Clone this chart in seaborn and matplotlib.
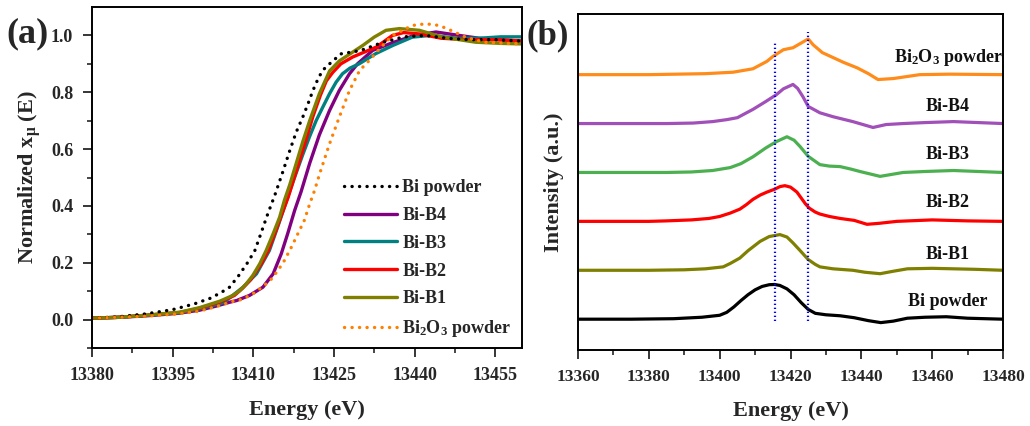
import numpy as np
import pandas as pd
import matplotlib
matplotlib.use("Agg")
import matplotlib.pyplot as plt
import seaborn as sns

# ---------------- data: panel (a) XANES ----------------
a_names = ["Bi powder", "Bi-B4", "Bi-B3", "Bi-B2", "Bi-B1", "Bi$_2$O$_3$ powder"]

a_bi_e = [13380, 13385, 13390, 13395, 13399, 13402, 13404, 13405.6, 13407.3, 13409, 13410.3, 13411.5,
          13412.7, 13414, 13415.5, 13416.8, 13418, 13419.2, 13420.2, 13421.1, 13422, 13422.9, 13424.2,
          13426.3, 13430, 13434, 13438, 13442, 13446, 13450, 13455, 13460]
a_bi_v = [0.005, 0.01, 0.02, 0.035, 0.055, 0.075, 0.095, 0.114, 0.155, 0.202, 0.243, 0.307,
          0.372, 0.437, 0.52, 0.595, 0.66, 0.712, 0.76, 0.806, 0.845, 0.877, 0.9,
          0.935, 0.947, 0.975, 0.995, 1.0, 0.99, 0.985, 0.985, 0.98]

a_b4_e = [13380, 13385, 13390, 13396, 13400, 13403, 13405.6, 13406.9, 13409.3, 13411.8, 13413.7,
          13415.2, 13416.4, 13417.7, 13418.9, 13420.5, 13422.3, 13424.2, 13426, 13427.9, 13429.4,
          13432.2, 13436, 13440, 13444, 13448.3, 13452, 13456, 13460]
a_b4_v = [0.005, 0.008, 0.013, 0.022, 0.033, 0.047, 0.061, 0.067, 0.085, 0.114, 0.161,
          0.231, 0.302, 0.384, 0.45, 0.55, 0.65, 0.736, 0.806, 0.865, 0.9,
          0.947, 0.975, 1.0, 1.012, 1.0, 0.99, 0.985, 0.98]

a_b3_e = [13380, 13385, 13390, 13396.3, 13400, 13404.5, 13408.1, 13410.6, 13413, 13414.8, 13416.4,
          13417.4, 13419.2, 13420.5, 13421.7, 13423, 13424.2, 13425.4, 13426.6, 13428, 13429.7,
          13432.8, 13436, 13439.6, 13443, 13448, 13452, 13456, 13460]
a_b3_v = [0.005, 0.008, 0.015, 0.024, 0.038, 0.06, 0.114, 0.161, 0.243, 0.34, 0.43,
          0.485, 0.58, 0.645, 0.70, 0.75, 0.795, 0.835, 0.865, 0.885, 0.9,
          0.936, 0.965, 0.994, 1.0, 0.99, 0.99, 0.995, 0.995]

a_b2_e = [13380, 13385, 13390, 13396.3, 13400, 13404, 13406.5, 13408, 13409.5, 13411.5, 13412.8,
          13414, 13415.3, 13416.5, 13418.3, 13419.7, 13421.1, 13422.5, 13423.6, 13424.8, 13426.3,
          13428.5, 13430.5, 13432.9, 13435.9, 13438, 13441, 13445, 13450, 13455, 13460]
a_b2_v = [0.005, 0.008, 0.015, 0.025, 0.04, 0.063, 0.085, 0.11, 0.14, 0.196, 0.243,
          0.302, 0.37, 0.431, 0.54, 0.625, 0.715, 0.79, 0.84, 0.87, 0.9,
          0.924, 0.94, 0.959, 1.0, 1.01, 1.005, 0.99, 0.985, 0.985, 0.98]

a_b1_e = [13380, 13385, 13390, 13396.3, 13400, 13403.8, 13406.2, 13407.5, 13408.7, 13409.9, 13411.2,
          13412.4, 13413.7, 13414.9, 13415.8, 13416.8, 13418, 13419.2, 13420.5, 13422.3, 13424.2,
          13426, 13428, 13430.4, 13432.5, 13434.7, 13437.2, 13440.9, 13445.2, 13451.4, 13456, 13460]
a_b1_v = [0.005, 0.008, 0.015, 0.026, 0.042, 0.065, 0.085, 0.102, 0.126, 0.155, 0.196,
          0.243, 0.302, 0.36, 0.42, 0.475, 0.55, 0.625, 0.70, 0.795, 0.875,
          0.91, 0.935, 0.965, 0.994, 1.018, 1.024, 1.018, 0.994, 0.976, 0.972, 0.97]

a_ox_e = [13380, 13390, 13396, 13400, 13403, 13406.2, 13407.5, 13408.7, 13409.9, 13411.2, 13412.4,
          13413.4, 13414.6, 13415.8, 13417.1, 13418.3, 13419.5, 13420.5, 13421.4, 13422.3, 13424.2,
          13426, 13427.9, 13429.8, 13431.6, 13433.5, 13435.9, 13439.6, 13442.1, 13444.6, 13446.5,
          13449.6, 13453.3, 13457, 13460]
a_ox_v = [0.005, 0.012, 0.02, 0.03, 0.045, 0.064, 0.069, 0.079, 0.09, 0.108, 0.126,
          0.143, 0.173, 0.208, 0.255, 0.302, 0.349, 0.407, 0.454, 0.51, 0.619,
          0.712, 0.806, 0.877, 0.912, 0.953, 1.0, 1.035, 1.041, 1.035, 1.02,
          0.993, 0.975, 0.972, 0.97]

a_colors = ["#000000", "#800080", "#008080", "#FF0000", "#808000", "#FF8000"]
a_dotted = [True, False, False, False, False, True]

a_xticks = [13380, 13395, 13410, 13425, 13440, 13455]
a_xminor = [13387.5, 13402.5, 13417.5, 13432.5, 13447.5]
a_yticks = [0.0, 0.2, 0.4, 0.6, 0.8, 1.0]
a_yminor = [-0.1, 0.1, 0.3, 0.5, 0.7, 0.9]

# ---------------- data: panel (b) derivative spectra ----------------
b_names = ["Bi powder", "Bi-B1", "Bi-B2", "Bi-B3", "Bi-B4", "Bi$_2$O$_3$ powder"]
b_offsets = [0, 1, 2, 3, 4, 5]

b_bi_e = [13360, 13375, 13387, 13395, 13400, 13402, 13404, 13406, 13408, 13410, 13412, 13414, 13415.5,
          13417, 13419, 13421, 13423, 13425, 13427, 13430, 13434, 13438, 13442, 13445.5, 13449, 13453,
          13458, 13464, 13470, 13480]
b_bi_v = [0, 0, 0.01, 0.04, 0.08, 0.14, 0.25, 0.38, 0.5, 0.6, 0.67, 0.705, 0.71,
          0.69, 0.62, 0.5, 0.34, 0.2, 0.12, 0.09, 0.07, 0.03, -0.03, -0.07, -0.04, 0.02,
          0.04, 0.05, 0.02, 0]

b_b1_e = [13360, 13380, 13390, 13396, 13401, 13403, 13405.7, 13408, 13411.4, 13414, 13417, 13419,
          13420.7, 13423, 13425, 13427, 13428.3, 13432, 13437.6, 13441, 13445.3, 13449, 13453, 13460,
          13466, 13472, 13480]
b_b1_v = [0, 0, 0.01, 0.03, 0.07, 0.14, 0.25, 0.4, 0.59, 0.69, 0.73, 0.68,
          0.56, 0.38, 0.22, 0.12, 0.07, 0.03, 0, -0.04, -0.07, -0.02, 0.03, 0.04,
          0.03, 0.02, 0]

b_b2_e = [13360, 13380, 13385, 13392, 13397, 13400, 13403, 13405.7, 13407.5, 13409.4, 13411.5,
          13413.4, 13415.6, 13417, 13418.4, 13420, 13421.8, 13423, 13424.2, 13425.3, 13427, 13428.3,
          13431, 13434, 13438, 13441.6, 13445, 13450, 13460, 13470, 13480]
b_b2_v = [0, 0, 0.01, 0.03, 0.06, 0.1, 0.17, 0.25, 0.34, 0.45, 0.54,
          0.6, 0.66, 0.71, 0.73, 0.7, 0.6, 0.48, 0.36, 0.27, 0.19, 0.15,
          0.1, 0.06, 0.02, -0.06, -0.04, 0, 0.03, 0.01, 0]

b_b3_e = [13360, 13385, 13392, 13398, 13403, 13406, 13409.4, 13413, 13416, 13419, 13421, 13422.7,
          13425, 13428.3, 13431, 13434, 13437, 13439.6, 13445.3, 13451.8, 13458, 13466, 13473, 13480]
b_b3_v = [0, 0, 0.01, 0.04, 0.1, 0.18, 0.32, 0.5, 0.63, 0.73, 0.66, 0.53,
          0.33, 0.16, 0.13, 0.12, 0.07, 0.02, -0.08, 0, 0.02, 0.04, 0.02, 0]

b_b4_e = [13360, 13385, 13392.5, 13398, 13402, 13405, 13409.4, 13413, 13416, 13418, 13420.7, 13422,
          13423.5, 13425, 13428.3, 13432, 13437.6, 13443.3, 13447, 13451.8, 13458, 13466, 13473, 13480]
b_b4_v = [0, 0, 0.01, 0.04, 0.08, 0.12, 0.29, 0.45, 0.59, 0.71, 0.8, 0.72,
          0.55, 0.35, 0.22, 0.14, 0.04, -0.08, -0.02, 0, 0.02, 0.04, 0.02, 0]

b_ox_e = [13360, 13380, 13388, 13396, 13403.8, 13409.4, 13413.3, 13415, 13418, 13420.7, 13423.1,
          13425, 13426.4, 13429, 13432, 13435, 13438.8, 13442, 13444.7, 13449, 13456.5, 13465, 13480]
b_ox_v = [0, 0, 0.01, 0.02, 0.05, 0.12, 0.27, 0.37, 0.51, 0.55, 0.65,
          0.73, 0.61, 0.45, 0.35, 0.25, 0.14, 0.02, -0.1, -0.08, 0, 0.01, 0]

b_colors = ["#000000", "#808000", "#FF0000", "#4CB050", "#A050B8", "#FF8C1A"]
b_label_y = [0.37, 1.33, 2.39, 3.37, 4.35, 5.35]
b_label_x = 13464.5

b_vline_x = [13415.5, 13425.0]
b_vline_top = [5.65, 5.88]
b_vline_bottom = -0.04

b_xticks = [13360, 13380, 13400, 13420, 13440, 13460, 13480]
b_xminor = [13370, 13390, 13410, 13430, 13450, 13470]

# ---------------- style ----------------
sns.set_theme(style="ticks")
plt.rcParams["font.family"] = ["Liberation Serif", "DejaVu Serif"]
plt.rcParams["font.weight"] = "bold"
plt.rcParams["axes.labelweight"] = "bold"
plt.rcParams["mathtext.fontset"] = "custom"
plt.rcParams["mathtext.rm"] = "Liberation Serif:bold"
plt.rcParams["mathtext.bf"] = "Liberation Serif:bold"
plt.rcParams["mathtext.it"] = "Liberation Serif:bold"
plt.rcParams["mathtext.default"] = "bf"

fig = plt.figure(figsize=(10.3, 4.26), dpi=100)
fig.patch.set_facecolor("white")
axA = fig.add_axes([92 / 1030, 1 - 348 / 426, 430 / 1030, 341 / 426])
axB = fig.add_axes([578 / 1030, 1 - 350 / 426, 425 / 1030, 336 / 426])

for ax in (axA, axB):
    ax.set_facecolor("white")
    for s in ax.spines.values():
        s.set_linewidth(1.4)
        s.set_color("black")
        s.set_visible(True)

# ---- panel (a)
a_series = [(a_bi_e, a_bi_v), (a_b4_e, a_b4_v), (a_b3_e, a_b3_v),
            (a_b2_e, a_b2_v), (a_b1_e, a_b1_v), (a_ox_e, a_ox_v)]
draw_order = [1, 2, 3, 4, 0, 5]
for i in draw_order:
    e, v = a_series[i]
    df = pd.DataFrame({"E": e, "v": v})
    if a_dotted[i]:
        sns.lineplot(data=df, x="E", y="v", ax=axA, color=a_colors[i], lw=2.4,
                     linestyle=(0, (0.05, 2.2)), dash_capstyle="round", sort=True,
                     estimator=None, label=a_names[i])
    else:
        sns.lineplot(data=df, x="E", y="v", ax=axA, color=a_colors[i], lw=2.4,
                     sort=True, estimator=None, label=a_names[i])

h, l = axA.get_legend_handles_labels()
lab2h = dict(zip(l, h))
axA.legend([lab2h[n] for n in a_names], a_names, loc="lower right",
           bbox_to_anchor=(1.0, -0.006), frameon=False, fontsize=13,
           handlelength=2.9, handletextpad=0.3, labelspacing=0.6, borderaxespad=0.2)

axA.set_xticks(a_xticks)
axA.set_xticklabels([str(t) for t in a_xticks])
axA.set_xticks(a_xminor, minor=True)
axA.set_yticks(a_yticks)
axA.set_yticklabels([f"{t:.1f}" for t in a_yticks])
axA.set_yticks(a_yminor, minor=True)
axA.set_xlim(13380, 13460)
axA.set_ylim(-0.1, 1.1)
axA.tick_params(axis="both", which="major", direction="out", length=6.5, width=1.3,
                labelsize=13, pad=7, top=False, right=False)
axA.tick_params(axis="both", which="minor", direction="out", length=3.5, width=1.2,
                top=False, right=False)
for t in axA.get_xticklabels() + axA.get_yticklabels():
    t.set_fontweight("bold")
axA.set_xlabel("Energy (eV)", fontsize=16, fontweight="bold", labelpad=12)
axA.set_ylabel("Normalized x$_{\\mu}$ (E)", fontsize=16, fontweight="bold", labelpad=6)

# ---- panel (b)
b_series = [(b_bi_e, b_bi_v), (b_b1_e, b_b1_v), (b_b2_e, b_b2_v),
            (b_b3_e, b_b3_v), (b_b4_e, b_b4_v), (b_ox_e, b_ox_v)]
for i, (e, v) in enumerate(b_series):
    df = pd.DataFrame({"E": e, "I": np.asarray(v) + b_offsets[i]})
    sns.lineplot(data=df, x="E", y="I", ax=axB, color=b_colors[i], lw=2.3,
                 sort=True, estimator=None, legend=False)
    axB.text(b_label_x, b_label_y[i], b_names[i], ha="center", va="center",
             fontsize=13, fontweight="bold", color="#111111")

axB.vlines(b_vline_x, b_vline_bottom, b_vline_top, colors="#0000FF", lw=1.6,
           linestyles=(0, (0.6, 1.2)))

axB.set_xticks(b_xticks)
axB.set_xticklabels([str(t) for t in b_xticks])
axB.set_xticks(b_xminor, minor=True)
axB.set_yticks([])
axB.set_xlim(13360, 13480)
axB.set_ylim(-0.63, 6.24)
axB.tick_params(axis="x", which="major", direction="out", length=6.5, width=1.3,
                labelsize=12.5, pad=7, top=False)
axB.tick_params(axis="x", which="minor", direction="out", length=3.5, width=1.2, top=False)
for t in axB.get_xticklabels():
    t.set_fontweight("bold")
axB.set_xlabel("Energy (eV)", fontsize=16, fontweight="bold", labelpad=12)
axB.set_ylabel("Intensity (a.u.)", fontsize=16, fontweight="bold", labelpad=10)

fig.text(0.006, 0.92, "(a)", fontsize=26, fontweight="bold", ha="left", va="center")
fig.text(0.511, 0.915, "(b)", fontsize=25, fontweight="bold", ha="left", va="center")

fig.savefig("out.png", dpi=100, facecolor="white")
